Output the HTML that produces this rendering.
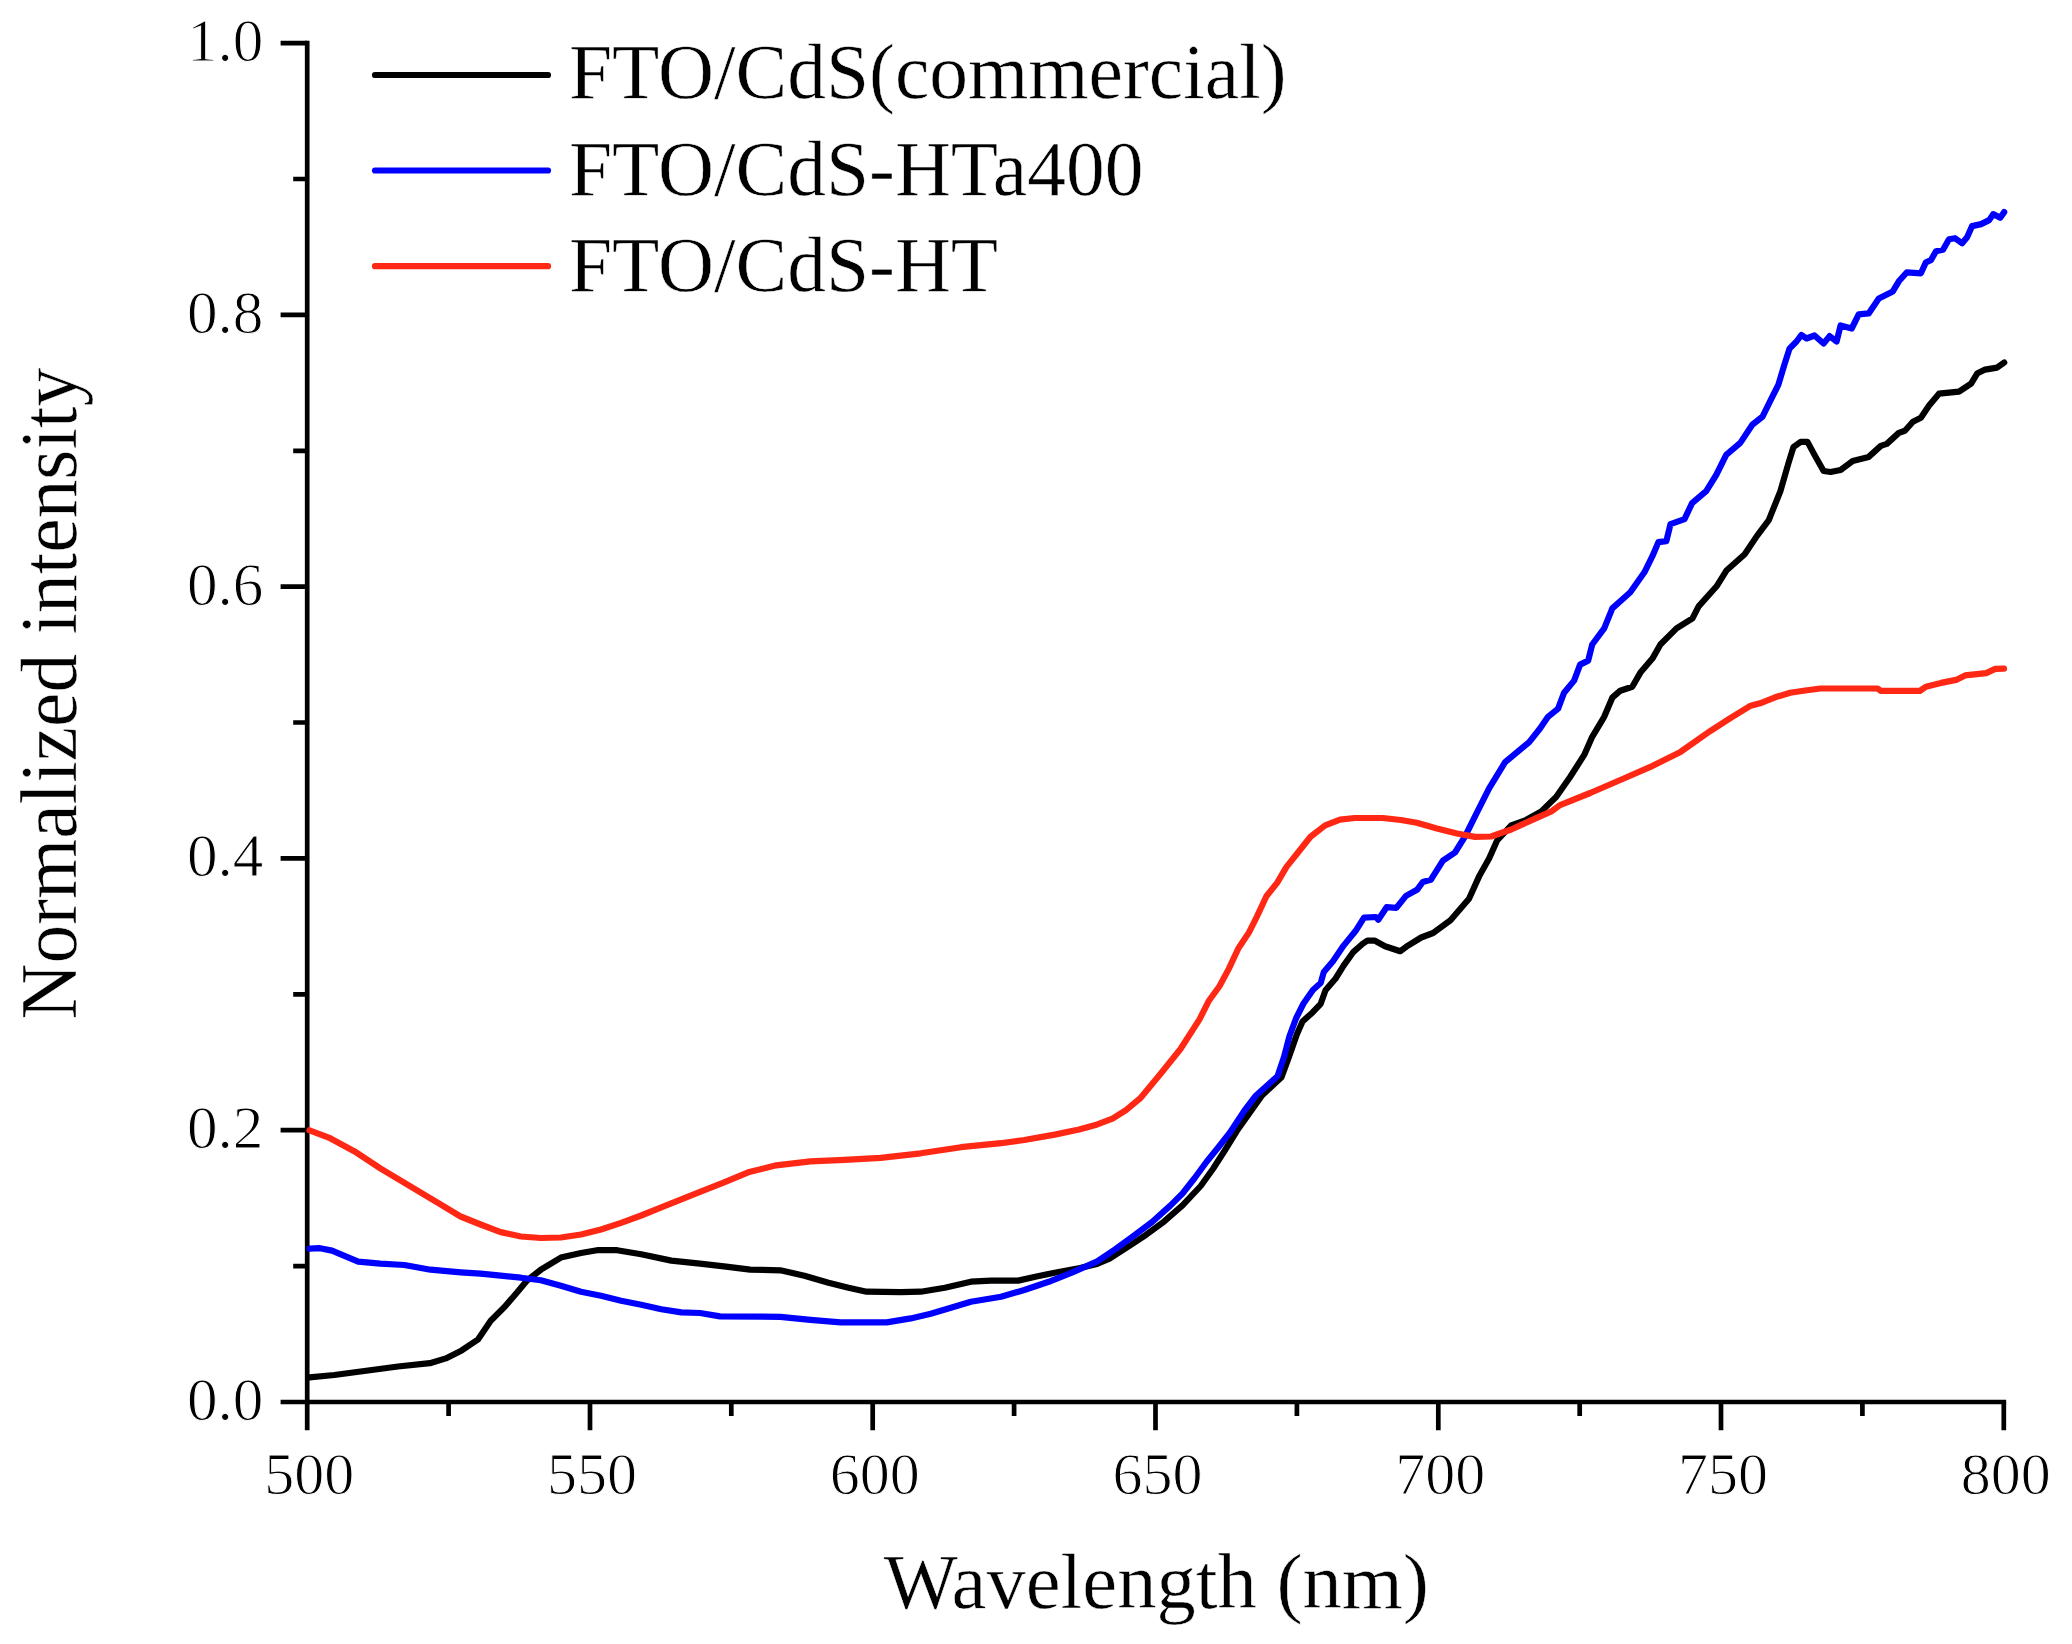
<!DOCTYPE html>
<html><head><meta charset="utf-8"><title>Normalized intensity vs Wavelength</title>
<style>
html,body{margin:0;padding:0;background:#fff;}
svg{display:block;font-family:"Liberation Serif",serif;fill:#000;}
text{stroke:#fff;stroke-width:0.5px;}
.tk{stroke-width:1px}
.ax{stroke:#000;stroke-width:4.7;fill:none;stroke-linecap:butt}
.cv{fill:none;stroke-width:6.2;stroke-linejoin:round;stroke-linecap:round}
.tk{font-size:60px}
.lb{font-size:77.5px}
</style></head><body>
<svg width="2072" height="1644" viewBox="0 0 2072 1644">
<rect width="2072" height="1644" fill="#fff"/>
<path class="ax" d="M307.2,40.75 V1430.2 M280.6,1402.0 H2006.15"/>
<path class="ax" d="M293.2,1266.1 H307.2 M280.6,1130.2 H307.2 M293.2,994.3 H307.2 M280.6,858.4 H307.2 M293.2,722.5 H307.2 M280.6,586.7 H307.2 M293.2,450.8 H307.2 M280.6,314.9 H307.2 M293.2,179.0 H307.2 M280.6,43.1 H307.2 M448.6,1402.0 V1416.0 M590.0,1402.0 V1430.2 M731.3,1402.0 V1416.0 M872.7,1402.0 V1430.2 M1014.1,1402.0 V1416.0 M1155.5,1402.0 V1430.2 M1296.9,1402.0 V1416.0 M1438.3,1402.0 V1430.2 M1579.7,1402.0 V1416.0 M1721.0,1402.0 V1430.2 M1862.4,1402.0 V1416.0 M2003.8,1402.0 V1430.2 "/>
<polyline class="cv" stroke="#000" points="309.5,1377.3 334.3,1375.0 366.2,1370.8 398.0,1366.5 429.9,1363.2 445.8,1358.4 461.7,1350.4 478.0,1339.5 490.7,1320.8 504.7,1306.8 516.8,1292.7 526.8,1280.7 540.8,1269.7 560.9,1257.6 581.0,1253.0 597.0,1250.2 617.1,1250.2 641.2,1254.2 671.3,1260.6 700.0,1263.6 726.1,1266.7 750.2,1269.7 780.3,1270.3 804.4,1275.7 828.5,1282.7 848.5,1287.7 866.6,1291.7 900.7,1292.1 920.8,1291.7 944.9,1287.7 970.9,1281.7 991.0,1280.7 1018.2,1280.6 1036.5,1276.5 1054.7,1272.7 1080.0,1268.0 1097.0,1264.0 1109.5,1258.6 1127.7,1247.0 1146.0,1234.8 1164.2,1221.4 1182.5,1205.4 1200.7,1186.0 1212.9,1169.0 1225.1,1150.0 1236.8,1131.0 1248.5,1114.5 1262.0,1095.5 1281.5,1077.2 1289.5,1055.5 1297.0,1034.0 1302.5,1021.5 1312.8,1012.2 1320.7,1003.8 1325.5,990.3 1335.6,978.5 1343.6,965.6 1353.5,951.8 1362.4,944.0 1367.5,940.5 1374.5,940.6 1385.0,946.2 1400.2,951.2 1408.0,945.6 1421.2,937.5 1433.1,933.0 1450.5,920.2 1469.0,898.7 1479.0,876.6 1489.1,858.6 1497.1,840.5 1511.2,825.4 1525.2,820.4 1541.3,811.4 1556.1,797.0 1570.1,777.0 1584.2,754.9 1592.2,736.8 1604.2,716.8 1612.3,697.7 1620.3,690.7 1632.3,686.7 1640.4,672.6 1652.4,658.6 1660.4,644.5 1676.5,628.4 1692.5,618.4 1698.6,606.4 1716.6,586.3 1726.7,570.2 1744.7,554.2 1756.8,536.1 1768.8,520.1 1780.4,491.1 1788.5,463.0 1793.5,446.9 1800.5,441.9 1807.5,441.9 1814.5,454.9 1823.6,471.0 1830.6,472.0 1840.6,470.0 1852.7,461.0 1868.7,456.9 1880.8,445.9 1886.8,443.9 1898.8,432.9 1904.9,430.8 1912.9,421.8 1920.9,417.8 1928.9,405.8 1939.0,393.7 1949.0,392.7 1959.0,391.7 1971.1,383.7 1977.1,373.6 1985.1,369.6 1997.2,367.6 2004.2,362.6"/>
<polyline class="cv" stroke="#0000ff" points="309.5,1248.6 320.0,1248.2 332.0,1250.6 358.2,1261.6 380.3,1263.6 404.4,1265.0 430.5,1269.7 460.6,1272.3 480.6,1273.7 500.7,1275.7 520.8,1277.7 540.8,1280.3 560.9,1285.7 581.0,1291.7 601.0,1295.8 621.1,1300.8 641.2,1304.8 661.3,1309.2 681.3,1312.4 700.0,1313.0 720.1,1316.4 780.3,1316.8 810.4,1319.8 840.5,1322.4 886.7,1322.4 910.7,1318.4 930.8,1313.8 950.9,1307.8 970.9,1301.8 1001.0,1296.8 1024.3,1290.0 1048.7,1281.8 1073.0,1272.1 1097.3,1261.4 1115.6,1249.0 1133.8,1235.8 1152.1,1222.0 1170.3,1205.6 1182.5,1193.5 1194.7,1178.0 1206.8,1161.5 1219.0,1146.5 1230.0,1132.5 1244.5,1110.5 1256.0,1095.5 1277.5,1076.2 1284.0,1057.0 1289.5,1036.0 1296.0,1018.5 1303.5,1003.5 1312.9,990.0 1320.7,983.0 1323.8,972.0 1333.0,961.2 1343.6,945.6 1355.7,930.8 1364.0,917.6 1375.8,917.0 1378.3,919.8 1386.6,907.2 1396.3,907.9 1406.0,895.9 1417.0,889.8 1422.8,882.0 1430.8,879.8 1442.9,860.6 1455.0,852.5 1465.0,836.5 1477.0,812.4 1489.1,788.3 1505.1,762.2 1529.2,742.1 1540.0,728.5 1548.0,716.8 1558.1,708.7 1564.1,692.7 1574.1,680.6 1580.1,664.6 1588.2,660.6 1592.2,644.5 1604.2,628.4 1612.3,608.4 1630.3,592.3 1644.4,572.3 1652.4,556.2 1658.4,542.1 1666.4,541.1 1670.5,524.1 1684.5,519.1 1692.1,503.1 1706.2,491.1 1716.2,475.0 1726.2,454.9 1740.3,442.9 1752.3,424.8 1762.4,416.8 1770.4,400.7 1778.4,384.7 1784.4,364.6 1789.5,348.6 1796.5,341.5 1801.5,334.9 1806.5,338.5 1814.5,335.5 1823.6,343.5 1829.6,336.1 1836.6,341.5 1840.6,325.5 1851.7,328.5 1858.7,314.4 1868.7,313.4 1878.8,298.4 1892.8,291.4 1898.8,281.3 1906.9,272.3 1920.9,273.3 1925.9,262.3 1930.9,260.2 1936.0,251.2 1943.0,249.8 1949.0,239.2 1955.0,238.2 1962.1,243.2 1967.1,237.2 1972.1,226.1 1981.1,224.1 1989.2,220.1 1993.2,214.1 2000.2,217.7 2004.2,212.1"/>
<polyline class="cv" stroke="#ff2814" points="309.5,1130.3 330.1,1138.2 354.2,1151.2 380.3,1168.3 410.4,1186.4 440.5,1204.4 460.6,1216.5 480.6,1224.5 500.7,1232.1 520.8,1236.5 540.8,1238.0 560.9,1237.5 581.0,1234.5 601.0,1229.5 621.1,1222.9 641.2,1215.5 661.3,1207.4 681.3,1199.4 700.0,1191.8 724.1,1182.4 748.2,1172.3 776.3,1165.3 810.4,1161.3 844.5,1159.9 880.6,1157.9 920.8,1153.3 960.9,1147.2 1001.0,1143.2 1024.3,1140.0 1054.7,1134.6 1079.1,1129.5 1097.3,1124.4 1112.5,1118.6 1126.0,1110.2 1140.1,1098.4 1160.2,1074.3 1180.3,1049.2 1199.5,1019.4 1208.9,1000.7 1219.6,986.0 1228.9,968.6 1238.3,948.5 1249.0,932.4 1257.0,916.4 1266.4,896.3 1277.1,882.9 1286.5,866.9 1297.2,853.5 1310.5,836.8 1325.2,825.4 1340.0,819.6 1354.6,818.0 1382.7,818.0 1400.8,820.0 1416.8,822.8 1436.9,828.5 1457.0,833.5 1475.0,836.9 1491.1,836.5 1511.2,829.5 1531.2,820.4 1551.3,811.4 1560.1,805.1 1590.2,793.0 1620.3,780.0 1650.4,766.9 1680.5,751.9 1710.6,730.8 1730.7,717.8 1750.7,705.7 1760.0,703.3 1775.1,697.3 1790.2,692.7 1805.2,690.5 1820.3,688.5 1877.6,688.5 1880.7,690.9 1919.9,690.9 1925.9,686.7 1941.0,682.9 1956.1,679.9 1965.1,675.4 1986.2,673.1 1995.3,668.9 2004.0,668.6"/>
<text class="tk" style="font-size:61.2px" x="263.4" y="1419.8" text-anchor="end">0.0</text>
<text class="tk" style="font-size:61.2px" x="263.4" y="1148.0" text-anchor="end">0.2</text>
<text class="tk" style="font-size:61.2px" x="263.4" y="876.2" text-anchor="end">0.4</text>
<text class="tk" style="font-size:61.2px" x="263.4" y="604.5" text-anchor="end">0.6</text>
<text class="tk" style="font-size:61.2px" x="263.4" y="332.7" text-anchor="end">0.8</text>
<text class="tk" style="font-size:61.2px" x="263.4" y="60.9" text-anchor="end">1.0</text>
<text class="tk" x="309.2" y="1494" text-anchor="middle">500</text>
<text class="tk" x="592.0" y="1494" text-anchor="middle">550</text>
<text class="tk" x="874.7" y="1494" text-anchor="middle">600</text>
<text class="tk" x="1157.5" y="1494" text-anchor="middle">650</text>
<text class="tk" x="1440.3" y="1494" text-anchor="middle">700</text>
<text class="tk" x="1723.0" y="1494" text-anchor="middle">750</text>
<text class="tk" x="2005.8" y="1494" text-anchor="middle">800</text>
<text class="lb" style="font-size:78.5px" x="1156.4" y="1608" text-anchor="middle">Wavelength (nm)</text>
<text class="lb" style="font-size:79.7px" transform="translate(75.5,693.6) rotate(-90) scale(0.972,1)" text-anchor="middle">Normalized intensity</text>
<line class="cv" x1="375" y1="75" x2="548" y2="75" stroke="#000"/>
<text class="lb" x="569" y="98">FTO/CdS(commercial)</text>
<line class="cv" x1="375" y1="170.5" x2="548" y2="170.5" stroke="#0000ff"/>
<text class="lb" x="569" y="195">FTO/CdS-HTa400</text>
<line class="cv" x1="375" y1="266.2" x2="548" y2="266.2" stroke="#ff2814"/>
<text class="lb" x="569" y="290.5">FTO/CdS-HT</text>
</svg></body></html>
